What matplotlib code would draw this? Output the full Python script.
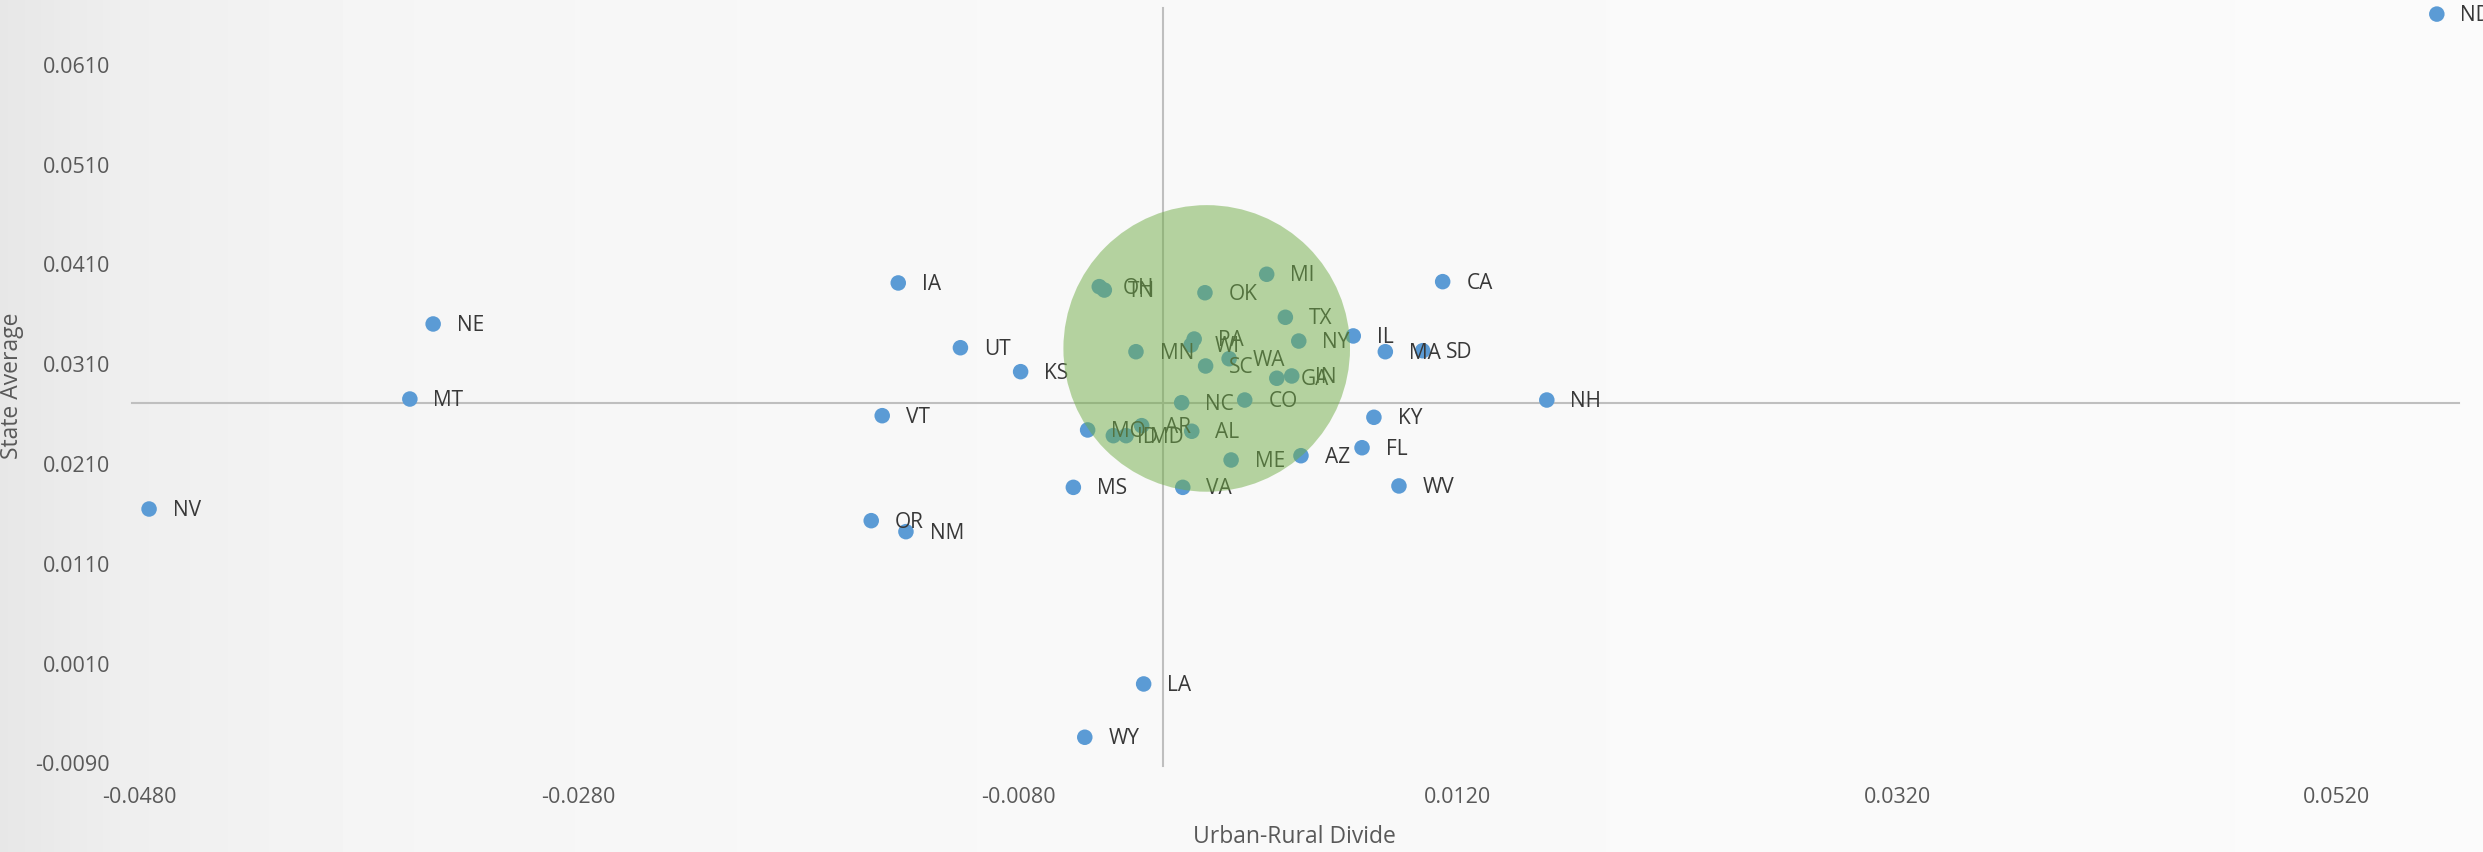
import numpy as np
import matplotlib
matplotlib.use("Agg")
import matplotlib.pyplot as plt

plt.rcParams['font.family'] = ['Open Sans', 'DejaVu Sans']

states = ["ND", "IA", "NE", "MT", "UT", "KS", "VT", "NV", "OR", "NM", "LA", "WY",
          "MS", "OH", "TN", "OK", "MI", "TX", "NY", "PA", "WI", "MN", "SC", "WA",
          "GA", "IN", "NC", "CO", "MO", "ID", "MD", "AR", "AL", "ME", "AZ", "VA",
          "IL", "MA", "SD", "CA", "KY", "FL", "WV", "NH"]
urban_rural = [0.05657, -0.01346, -0.03463, -0.03569, -0.01063, -0.00789, -0.01419, -0.04756,
               -0.01469, -0.01311, -0.00229, -0.00497,
               -0.00549, -0.00431, -0.00408, 0.00050, 0.00331, 0.00416, 0.00477, 0.00001,
               -0.00013, -0.00264, 0.00053, 0.00160,
               0.00377, 0.00445, -0.00056, 0.00231, -0.00484, -0.00367, -0.00309, -0.00238,
               -0.00010, 0.00169, 0.00487, -0.00051,
               0.00725, 0.00871, 0.01041, 0.01132, 0.00819, 0.00765, 0.00933, 0.01606]
state_avg = [0.06608, 0.03914, 0.03503, 0.02751, 0.03265, 0.03025, 0.02584, 0.01649,
             0.01532, 0.01422, -0.00104, -0.00638,
             0.01866, 0.03877, 0.03843, 0.03816, 0.04001, 0.03570, 0.03332, 0.03352,
             0.03292, 0.03225, 0.03082, 0.03155,
             0.02959, 0.02982, 0.02714, 0.02741, 0.02441, 0.02384, 0.02384, 0.02484,
             0.02428, 0.02140, 0.02183, 0.01866,
             0.03383, 0.03225, 0.03235, 0.03927, 0.02568, 0.02263, 0.01880, 0.02741]

# reference lines (averages)
mean_x = -0.00140
mean_y = 0.02714
vline_y = [-0.0093, 0.0667]
hline_x = [-0.04832, 0.05757]

# highlight cluster centre
cluster_x = 0.00058
cluster_y = 0.03258

x_ticks = [-0.0480, -0.0280, -0.0080, 0.0120, 0.0320, 0.0520]
y_ticks = [-0.0090, 0.0010, 0.0110, 0.0210, 0.0310, 0.0410, 0.0510, 0.0610]

W, H, DPI = 2483, 852, 100
fig = plt.figure(figsize=(W / DPI, H / DPI), dpi=DPI)

# background gradient
bg = fig.add_axes([0, 0, 1, 1], zorder=-10)
gx = np.linspace(0, 1, 600)
vals = np.interp(gx, [0, 0.05, 0.15, 0.35, 1.0], [0.905, 0.935, 0.960, 0.972, 0.982])
img = np.tile(vals, (2, 1))
bg.imshow(img, cmap='gray', vmin=0, vmax=1, aspect='auto', extent=[0, 1, 0, 1])
bg.set_axis_off()

ax = fig.add_axes([139.4 / W, 1 - 763.4 / H, (2450 - 139.4) / W, (763.4 - 8) / H])
ax.patch.set_alpha(0)
ax.set_xlim(-0.048, 0.05717)
ax.set_ylim(-0.009, 0.06669)
for s in ax.spines.values():
    s.set_visible(False)

ax.plot([mean_x, mean_x], vline_y, color='#bfbfbf', lw=1.5, clip_on=False, zorder=1)
ax.plot(hline_x, [mean_y, mean_y], color='#bfbfbf', lw=1.5, clip_on=False, zorder=1)

ax.scatter(urban_rural, state_avg, s=125, color='#5B9BD5', edgecolors='none', zorder=3,
           clip_on=False)
for name, xv, yv in zip(states, urban_rural, state_avg):
    ax.annotate(name, (xv, yv), xytext=(17, -1), textcoords='offset points',
                va='center', ha='left', fontsize=15, color='#383838', zorder=4,
                annotation_clip=False)

ax.scatter([cluster_x], [cluster_y], s=(2 * 143.3 * 72 / DPI) ** 2, color='#70AD47',
           alpha=0.5, edgecolors='none', zorder=5)

ax.set_xticks(x_ticks)
ax.set_xticklabels([f"{v:.4f}" for v in x_ticks])
ax.set_yticks(y_ticks)
ax.set_yticklabels([f"{v:.4f}" for v in y_ticks])
ax.tick_params(axis='both', length=0, labelsize=15.5, labelcolor='#595959')
ax.tick_params(axis='y', pad=21)
ax.tick_params(axis='x', pad=17)

fig.text(1294.5 / W, 1 - 836.7 / H, "Urban-Rural Divide", fontsize=16.5, color='#595959',
         ha='center', va='center')
fig.text(12.5 / W, 1 - 386 / H, "State Average", fontsize=16.5, color='#595959',
         ha='center', va='center', rotation=90)

fig.savefig("out.png", dpi=DPI)
